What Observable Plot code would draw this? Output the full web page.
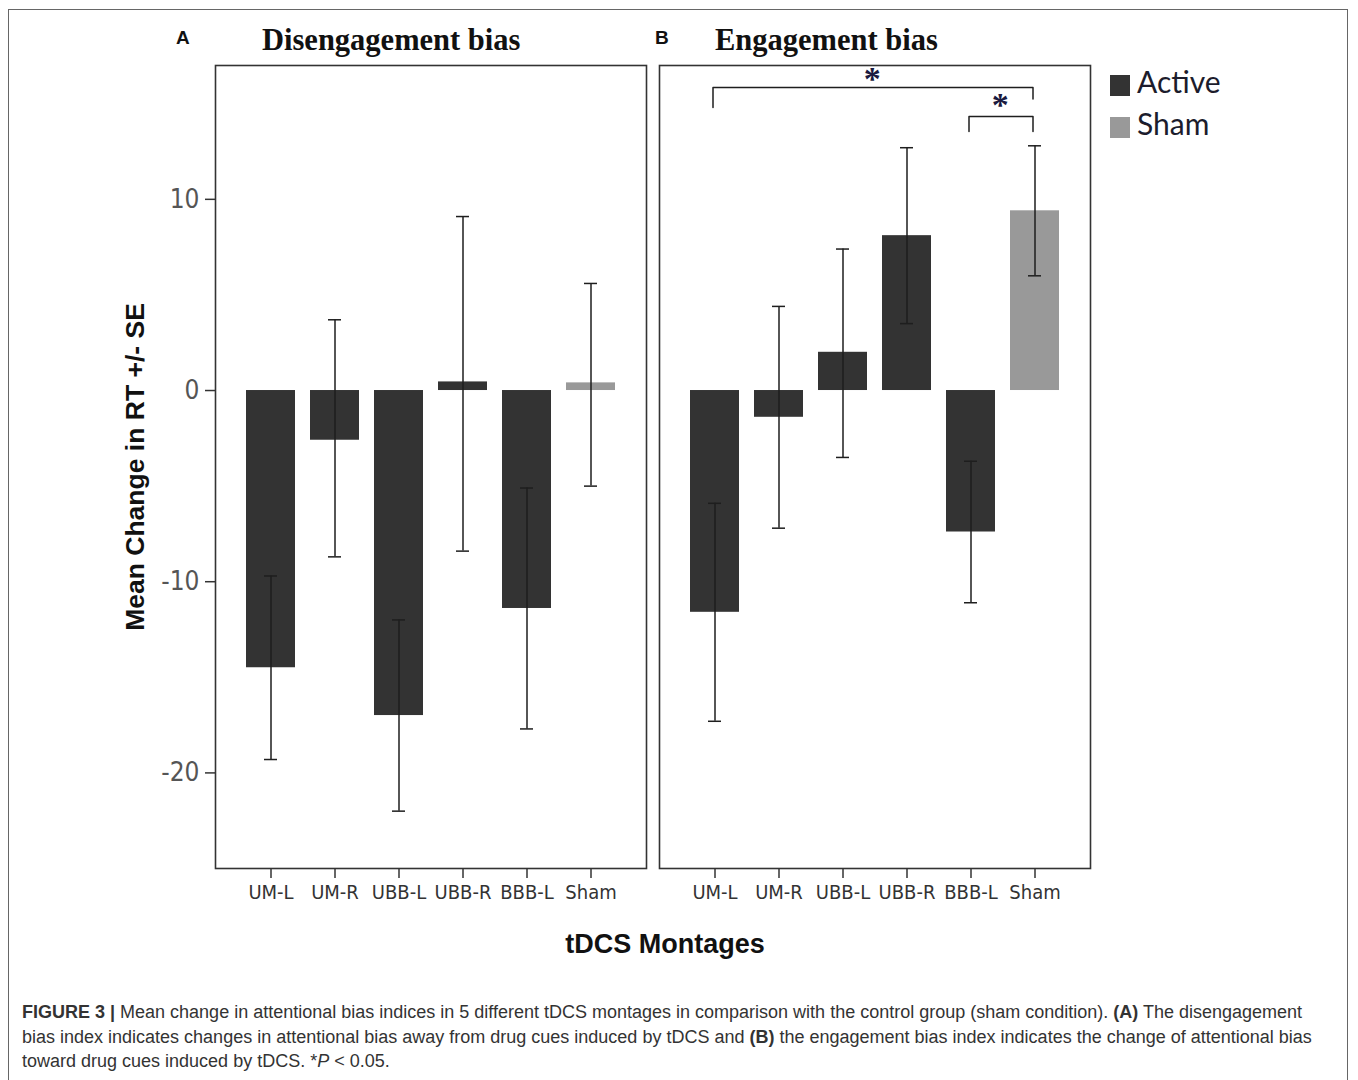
<!DOCTYPE html>
<html>
<head>
<meta charset="utf-8">
<script src="https://cdn.jsdelivr.net/npm/d3@7"></script>
<script src="https://cdn.jsdelivr.net/npm/@observablehq/plot@0.6"></script>
<style>
  html, body { margin: 0; padding: 0; background: #fff; }
  body { width: 1358px; height: 1080px; position: relative; overflow: hidden; }
  .abs { position: absolute; white-space: nowrap; line-height: 1; }
  #border { position: absolute; left: 8px; top: 9px; width: 1340px; height: 1200px;
            border: 1.5px solid #666; border-bottom: none; box-sizing: border-box; }
</style>
</head>
<body>
<div id="border"></div>
<div id="chart" style="position:absolute;left:0;top:0;"></div>

<script>
// ---------- data ----------
const panels = ["A", "B"];
const panelTitles = ["Disengagement bias", "Engagement bias"];
const montages = ["UM-L", "UM-R", "UBB-L", "UBB-R", "BBB-L", "Sham"];
const groups = ["Active", "Sham"];
const yTicks = [-20, -10, 0, 10];

// Panel A: disengagement bias
const disengagementMean = [-14.5, -2.6, -17.0, 0.45, -11.4, 0.4];
const disengagementLow  = [-19.3, -8.7, -22.0, -8.4, -17.7, -5.0];
const disengagementHigh = [-9.7, 3.7, -12.0, 9.1, -5.1, 5.6];

// Panel B: engagement bias
const engagementMean = [-11.6, -1.4, 2.0, 8.1, -7.4, 9.4];
const engagementLow  = [-17.3, -7.2, -3.5, 3.5, -11.1, 6.0];
const engagementHigh = [-5.9, 4.4, 7.4, 12.7, -3.7, 12.8];

// significance comparisons in panel B
const comparisons = [
  {from: "UM-L", to: "Sham", label: "*"},
  {from: "BBB-L", to: "Sham", label: "*"}
];

// ---------- build tables ----------
const means = [disengagementMean, engagementMean];
const lows = [disengagementLow, engagementLow];
const highs = [disengagementHigh, engagementHigh];
const rows = [];
panels.forEach((p, pi) => montages.forEach((m, i) => rows.push({
  panel: p, montage: m, group: m === "Sham" ? "Sham" : "Active",
  mean: means[pi][i], low: lows[pi][i], high: highs[pi][i]
})));

// bracket geometry (annotation levels, in data units)
const bracketLevels = [{top: 15.85, legL: 14.8, legR: 15.25, starY: 16.3},
                       {top: 14.33, legL: 13.55, legR: 13.55, starY: 14.95}];
const bracketPts = [];
comparisons.forEach((c, k) => {
  const L = bracketLevels[k];
  [[c.from, L.legL], [c.from, L.top], [c.to, L.top], [c.to, L.legR]].forEach(([x, y]) =>
    bracketPts.push({panel: "B", id: k, x, y}));
});
// star anchored at the band just left of the bracket's midpoint, shifted by half a step
const starData = comparisons.map((c, k) => {
  const mid = (montages.indexOf(c.from) + montages.indexOf(c.to)) / 2;
  return {panel: "B", id: k, label: c.label, x: montages[Math.floor(mid)], frac: mid - Math.floor(mid),
          y: bracketLevels[k].starY};
});
const step = 430 / (6 - 0.24 + 2 * 0.458);

const black = "#1e1e1e";
const starMarks = starData.map(d => Plot.text([d], {fx: "panel", x: "x", y: "y", text: "label",
  dx: d.frac * step - 3, fontSize: 34, fontWeight: "bold", fontFamily: "Liberation Serif, serif", fill: "#1a1a40"}));

const axisFont = "Liberation Sans Narrow, DejaVu Sans Condensed, Arial Narrow, Liberation Sans, sans-serif";
const chart = Plot.plot({
  width: 1358,
  height: 1000,
  marginLeft: 215,
  marginRight: 268,
  marginTop: 65,
  marginBottom: 132,
  style: {fontFamily: "Liberation Sans, Arial, sans-serif", background: "transparent", overflow: "visible"},
  fx: {domain: panels, paddingInner: 0.03, paddingOuter: 0, axis: null, label: null},
  x: {domain: montages, paddingInner: 0.24, paddingOuter: 0.458, label: null},
  y: {domain: [-25, 17], label: null},
  color: {domain: groups, range: ["#333333", "#999999"]},
  marks: [
    Plot.barY(rows, {fx: "panel", x: "montage", y: "mean", fill: "group"}),
    Plot.ruleX(rows, {fx: "panel", x: "montage", y1: "low", y2: "high", stroke: black, strokeWidth: 1.5}),
    Plot.tickY(rows, {fx: "panel", x: "montage", y: "low", stroke: black, strokeWidth: 1.5, insetLeft: 18, insetRight: 18}),
    Plot.tickY(rows, {fx: "panel", x: "montage", y: "high", stroke: black, strokeWidth: 1.5, insetLeft: 18, insetRight: 18}),
    Plot.line(bracketPts, {fx: "panel", x: "x", y: "y", z: "id", stroke: black, strokeWidth: 1.5, dx: -2}),
    ...starMarks,
    Plot.frame({stroke: "#333", strokeWidth: 1.6}),
    Plot.axisY({ticks: yTicks, tickSize: 10, tickPadding: 6, fontSize: 26, stroke: "#333", fill: "#555",
      strokeWidth: 1.5, fontFamily: axisFont, tickFormat: d => d}),
    Plot.axisX({tickSize: 10, tickPadding: 6, fontSize: 20, stroke: "#333", fill: "#333", strokeWidth: 1.5,
      fontFamily: axisFont})
  ]
});
document.getElementById("chart").appendChild(chart);

// ---------- text overlays ----------
function addText(html, style) {
  const d = document.createElement("div");
  d.className = "abs";
  d.innerHTML = html;
  Object.assign(d.style, style);
  document.body.appendChild(d);
  return d;
}
const letterStyle = {fontFamily: "Liberation Sans, Arial, sans-serif", fontWeight: "bold", fontSize: "19px", color: "#111"};
addText(panels[0], Object.assign({left: "176px", top: "28px"}, letterStyle));
addText(panels[1], Object.assign({left: "655px", top: "28px"}, letterStyle));
const titleStyle = {fontFamily: "Liberation Serif, 'Times New Roman', serif", fontWeight: "bold", fontSize: "30.5px", color: "#111"};
addText(panelTitles[0], Object.assign({left: "262px", top: "25px"}, titleStyle));
addText(panelTitles[1], Object.assign({left: "715px", top: "25px"}, titleStyle));

// y-axis label
addText("Mean Change in RT +/- SE", {left: "135px", top: "467px", transform: "translate(-50%,-50%) rotate(-90deg)",
  fontFamily: "Liberation Sans, Arial, sans-serif", fontWeight: "bold", fontSize: "26.5px", color: "#111"});
// x-axis label
addText("tDCS Montages", {left: "665px", top: "931px", transform: "translateX(-50%)",
  fontFamily: "Liberation Sans, Arial, sans-serif", fontWeight: "bold", fontSize: "27px", color: "#111"});

// legend
const legendColors = ["#333333", "#999999"];
groups.forEach((g, i) => {
  const top = 75 + i * 42;
  addText("", {left: "1110px", top: top + "px", width: "20px", height: "21px", background: legendColors[i]});
  addText(g, {left: "1137px", top: (top - 9) + "px", fontFamily: "Lato, 'Open Sans', sans-serif",
    fontSize: "30px", color: "#1c1c2c"});
});

// caption
const captionLines = [
  "<b>FIGURE 3 |</b> Mean change in attentional bias indices in 5 different tDCS montages in comparison with the control group (sham condition). <b>(A)</b> The disengagement",
  "bias index indicates changes in attentional bias away from drug cues induced by tDCS and <b>(B)</b> the engagement bias index indicates the change of attentional bias",
  "toward drug cues induced by tDCS. *<i>P</i> &lt; 0.05."
];
captionLines.forEach((l, i) => addText(l, {left: "22px", top: (1003 + i * 24.5) + "px",
  fontFamily: "Liberation Sans, Arial, sans-serif", fontSize: "18px", color: "#333"}));
</script>
</body>
</html>
